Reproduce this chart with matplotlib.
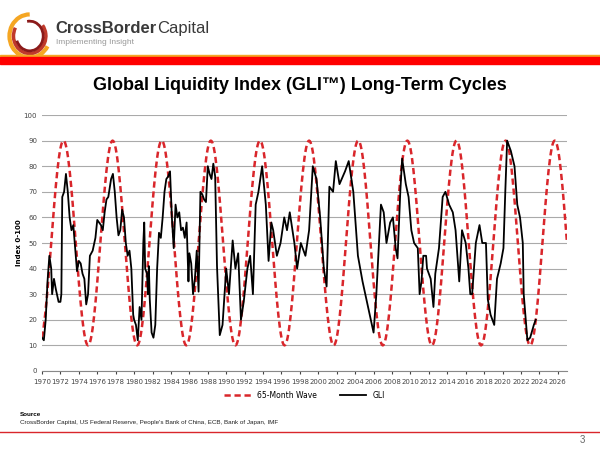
import numpy as np
import matplotlib
matplotlib.use("Agg")
import matplotlib.pyplot as plt
from matplotlib.patches import Arc

# ---- data ----
wave_period_months = 64
wave_first_trough = 1975.0
wave_mid = 50
wave_amp = 40
wave_start, wave_end = 1970.0, 2027.0

gli_years = [1970.0,1970.2,1970.4,1970.6,1970.8,1971.0,1971.1,1971.3,1971.5,1971.8,1972.0,1972.1,1972.2,1972.4,1972.6,1972.8,
 1973.0,1973.2,1973.4,1973.6,1973.8,1974.0,1974.2,1974.4,1974.6,1974.8,1975.0,1975.2,1975.5,1975.8,1976.0,1976.4,1976.6,1976.8,
 1977.0,1977.2,1977.5,1977.7,1977.9,1978.1,1978.3,1978.5,1978.7,1978.9,1979.1,1979.3,1979.5,1979.7,1979.9,1980.0,1980.2,1980.4,
 1980.6,1980.8,1981.0,1981.1,1981.2,1981.4,1981.5,1981.6,1981.7,1981.9,1982.1,1982.3,1982.5,1982.7,1982.9,1983.1,1983.3,1983.5,
 1983.7,1983.9,1984.1,1984.3,1984.5,1984.7,1984.9,1985.1,1985.3,1985.5,1985.7,1985.9,1986.0,1986.2,1986.4,1986.6,1986.8,1987.0,
 1987.2,1987.4,1987.6,1987.8,1988.0,1988.2,1988.4,1988.6,1988.8,1989.0,1989.3,1989.6,1990.0,1990.3,1990.7,1991.0,1991.3,1991.6,
 1991.9,1992.3,1992.6,1992.9,1993.2,1993.5,1993.9,1994.3,1994.6,1994.9,1995.1,1995.5,1995.9,1996.3,1996.6,1996.9,1997.4,1997.7,
 1998.1,1998.6,1999.0,1999.4,1999.8,2000.2,2000.6,2000.9,2001.2,2001.6,2001.9,2002.3,2002.9,2003.3,2003.8,2004.3,2004.8,2005.4,
 2006.0,2006.3,2006.8,2007.1,2007.4,2007.8,2008.1,2008.4,2008.6,2008.9,2009.1,2009.5,2009.8,2010.1,2010.4,2010.8,2011.0,2011.2,
 2011.4,2011.7,2011.8,2012.2,2012.5,2012.7,2013.1,2013.5,2013.8,2014.2,2014.6,2014.9,2015.3,2015.6,2016.0,2016.3,2016.5,2016.7,
 2017.1,2017.5,2017.8,2018.2,2018.4,2018.7,2019.1,2019.4,2019.8,2020.1,2020.3,2020.5,2020.9,2021.3,2021.6,2021.9,2022.2,2022.3,
 2022.7,2023.0,2023.4,2023.6]
gli_values = [13,12,20,35,45,40,30,36,32,27,27,30,68,70,77,70,
 60,55,57,48,39,43,42,38,36,26,30,45,47,52,59,57,55,62,
 67,68,75,77,70,60,53,55,63,60,50,45,47,40,22,20,18,12,
 25,20,50,58,40,38,30,41,28,15,13,18,40,54,52,60,70,75,
 76,78,60,48,65,60,62,55,56,52,58,35,46,42,30,36,47,31,
 70,69,67,66,80,77,75,81,76,41,14,18,40,30,51,40,46,20,
 27,40,45,30,65,70,80,65,43,58,55,45,50,60,55,62,50,40,
 50,45,55,80,75,60,40,33,72,70,82,73,78,82,70,45,35,25,
 15,30,65,62,50,58,60,48,44,70,83,73,68,55,50,48,30,35,
 45,45,40,36,25,38,48,68,70,65,62,55,35,55,50,40,30,30,
 50,57,50,50,28,22,18,36,42,48,70,90,86,80,65,60,50,30,
 12,13,18,20]

title = "Global Liquidity Index (GLI\u2122) Long-Term Cycles"
x_ticks = list(range(1970, 2027, 2))
y_ticks = list(range(0, 101, 10))

# ---- figure ----
fig = plt.figure(figsize=(6, 4.5), dpi=100)
fig.patch.set_facecolor("white")
F = "Liberation Sans"

# header
fig.text(0.092, 0.937, "CrossBorder", fontsize=12, fontweight="bold", color="#3a3a3a", family=F, va="center")
fig.text(0.262, 0.937, "Capital", fontsize=12, color="#3a3a3a", family=F, va="center")
fig.text(0.093, 0.905, "Implementing Insight", fontsize=6, color="#999999", family=F, va="center")
lax = fig.add_axes([0.0, 0.86, 0.09, 0.12]); lax.set_xlim(0, 1); lax.set_ylim(0, 1); lax.axis("off")
for (w, h, a1, a2, c, lw) in [(0.75, 0.8, 90, 330, "#f5a623", 3), (0.6, 0.65, 150, 400, "#c0392b", 2.5), (0.5, 0.55, 200, 460, "#8b1a1a", 2)]:
    lax.add_patch(Arc((0.55, 0.5), w, h, theta1=a1, theta2=a2, color=c, lw=lw))
fig.add_artist(plt.Rectangle((0, 0.872), 1, 0.006, transform=fig.transFigure, color="#f5a623"))
fig.add_artist(plt.Rectangle((0, 0.857), 1, 0.016, transform=fig.transFigure, color="#ff0000"))

fig.text(0.5, 0.81, title, fontsize=13, fontweight="bold", family=F, ha="center", va="center")

ax = fig.add_axes([0.07, 0.1756, 0.875, 0.5688])
months = np.arange(0, int((wave_end - wave_start) * 12) + 1)
wx = wave_start + months / 12.0
wy = wave_mid - wave_amp * np.cos(2 * np.pi * (wx - wave_first_trough) * 12 / wave_period_months)
ax.plot(wx, wy, color="#d9262b", ls=(0, (2.5, 1.5)), lw=1.8, label="65-Month Wave")
ax.plot(gli_years, gli_values, color="black", lw=1.3, label="GLI")
ax.set_xlim(1970, 2027)
ax.set_ylim(0, 100)
ax.set_xticks(x_ticks)
ax.set_yticks(y_ticks)
ax.tick_params(labelsize=5, colors="#444444", length=2)
ax.grid(axis="y", color="#aaaaaa", lw=0.8)
ax.set_axisbelow(True)
for s in ["top", "right", "left"]:
    ax.spines[s].set_visible(False)
ax.spines["bottom"].set_color("#888888")
ax.tick_params(axis="y", length=0)
ax.set_ylabel("Index 0-100", fontsize=5, fontweight="bold", labelpad=1)
ax.legend(loc="upper center", bbox_to_anchor=(0.5, -0.05), ncol=2, frameon=False, fontsize=5.5,
          handlelength=3.5, columnspacing=3)

fig.text(0.033, 0.076, "Source", fontsize=4.5, fontweight="bold", family=F)
fig.text(0.033, 0.058, "CrossBorder Capital, US Federal Reserve, People's Bank of China, ECB, Bank of Japan, IMF",
         fontsize=4.5, family=F, color="#222222")
fig.add_artist(plt.Line2D([0, 1], [0.039, 0.039], transform=fig.transFigure, color="#d9262b", lw=1))
fig.text(0.975, 0.015, "3", fontsize=7, color="#666666", family=F, ha="right")

fig.savefig("out.png", dpi=100)
